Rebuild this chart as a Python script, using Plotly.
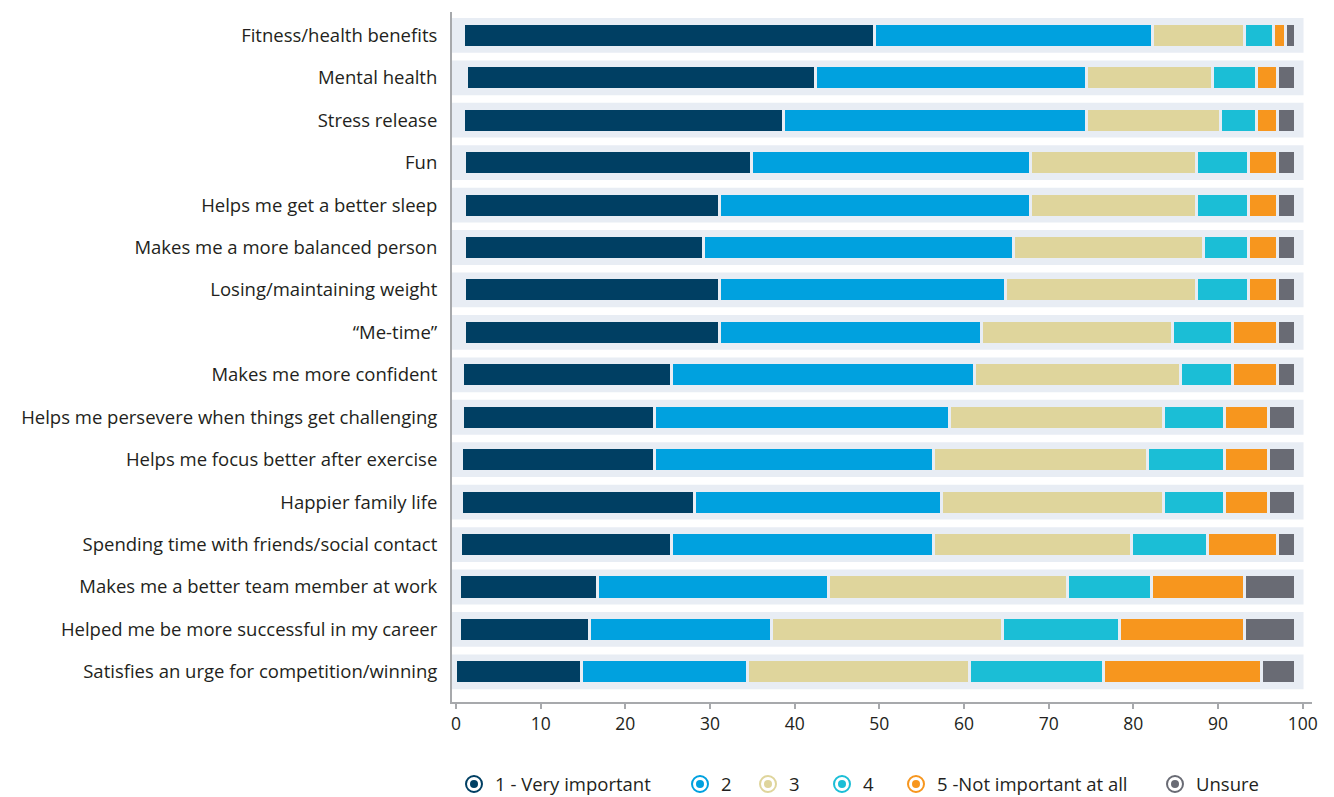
import plotly.graph_objects as go

categories = [
    "Fitness/health benefits",
    "Mental health",
    "Stress release",
    "Fun",
    "Helps me get a better sleep",
    "Makes me a more balanced person",
    "Losing/maintaining weight",
    "\u201cMe-time\u201d",
    "Makes me more confident",
    "Helps me persevere when things get challenging",
    "Helps me focus better after exercise",
    "Happier family life",
    "Spending time with friends/social contact",
    "Makes me a better team member at work",
    "Helped me be more successful in my career",
    "Satisfies an urge for competition/winning",
]

series_names = ["1 - Very important", "2", "3", "4", "5 -Not important at all", "Unsure"]

# small leading offset where each bar starts
bar_start = [0.9, 1.3, 0.9, 1.0, 1.0, 1.0, 1.0, 1.0, 0.8, 0.8, 0.6, 0.6, 0.5, 0.4, 0.4, 0.0]

very_important = [48.5, 41.2, 37.8, 33.9, 30.1, 28.2, 30.1, 30.1, 24.6, 22.7, 22.9, 27.6, 24.9, 16.3, 15.4, 14.8]
rating_2 = [32.9, 32.0, 35.8, 32.9, 36.7, 36.7, 33.8, 31.0, 35.8, 34.8, 32.9, 29.1, 31.0, 27.3, 21.5, 19.6]
rating_3 = [10.8, 14.8, 15.8, 19.6, 19.6, 22.4, 22.5, 22.5, 24.4, 25.3, 25.3, 26.3, 23.4, 28.2, 27.2, 26.3]
rating_4 = [3.4, 5.2, 4.2, 6.2, 6.2, 5.3, 6.2, 7.1, 6.1, 7.2, 9.1, 7.2, 9.0, 10.0, 13.9, 15.8]
not_important = [1.5, 2.5, 2.5, 3.4, 3.4, 3.4, 3.4, 5.3, 5.3, 5.2, 5.2, 5.2, 8.2, 10.9, 14.7, 18.6]
unsure = [1.2, 2.2, 2.2, 2.2, 2.2, 2.2, 2.2, 2.2, 2.2, 3.2, 3.2, 3.2, 2.2, 6.0, 6.0, 4.1]

x_ticks = [0, 10, 20, 30, 40, 50, 60, 70, 80, 90, 100]

colors = ["#003F63", "#00A1DF", "#DFD59C", "#1BBED6", "#F7961E", "#696B74"]
band_color = "#E8EDF4"
text_color = "#231F20"
axis_color = "#A7A9AC"
FONT = "Open Sans"

series = [very_important, rating_2, rating_3, rating_4, not_important, unsure]

# ---- layout geometry (pixels) ----
W, H = 1334, 797
M_L, M_R, M_T, M_B = 452, 22, 12, 95
PLOT_W = W - M_L - M_R
PLOT_H = H - M_T - M_B
legend_symbol_px = [474, 700, 768, 842, 916, 1175]   # legend symbol centres
legend_y_px = 784


def px_to_paper_x(px):
    return (px - M_L) / PLOT_W


def py_to_paper_y(py):
    return (H - M_B - py) / PLOT_H


fig = go.Figure()

# invisible leading offset
fig.add_trace(go.Bar(
    y=categories, x=bar_start, orientation="h", width=0.566,
    marker=dict(color="rgba(0,0,0,0)", line=dict(width=0)),
    showlegend=False, hoverinfo="skip",
))

for name, vals, col in zip(series_names, series, colors):
    fig.add_trace(go.Bar(
        y=categories, x=vals, orientation="h", name=name, width=0.566,
        marker=dict(color=col, line=dict(color=band_color, width=3)),
        showlegend=False,
    ))

# row background bands
for i, _ in enumerate(categories):
    fig.add_shape(type="rect", xref="x", yref="y",
                  x0=-0.47, x1=100.1, y0=i - 0.41, y1=i + 0.41,
                  fillcolor=band_color, line=dict(width=0), layer="below")

# custom legend: ring + dot symbol and label
ly = py_to_paper_y(legend_y_px)
for name, col, cx in zip(series_names, colors, legend_symbol_px):
    ax = px_to_paper_x(cx)
    fig.add_shape(type="circle", xref="paper", yref="paper",
                  xsizemode="pixel", ysizemode="pixel", xanchor=ax, yanchor=ly,
                  x0=-8, x1=8, y0=-8, y1=8,
                  fillcolor="white", line=dict(color=col, width=2))
    fig.add_shape(type="circle", xref="paper", yref="paper",
                  xsizemode="pixel", ysizemode="pixel", xanchor=ax, yanchor=ly,
                  x0=-4, x1=4, y0=-4, y1=4,
                  fillcolor=col, line=dict(width=0))
    fig.add_annotation(x=px_to_paper_x(cx + 19), y=ly, xref="paper", yref="paper",
                       text=name, showarrow=False, xanchor="left", yanchor="middle",
                       font=dict(family=FONT, size=18.5, color=text_color))

fig.update_layout(
    width=W, height=H,
    barmode="stack",
    plot_bgcolor="white", paper_bgcolor="white",
    margin=dict(l=M_L, r=M_R, t=M_T, b=M_B),
    font=dict(family=FONT, size=18, color=text_color),
    showlegend=False,
)

fig.update_xaxes(
    range=[-0.47, 101.1], tickvals=x_ticks, ticktext=[str(t) for t in x_ticks],
    showgrid=False, zeroline=False, showline=True, linecolor=axis_color, linewidth=2,
    ticks="outside", ticklen=5, tickcolor=axis_color, tickwidth=1.5,
    tickfont=dict(family=FONT, size=17.5, color=text_color),
)
fig.update_yaxes(
    type="category", categoryorder="array", categoryarray=categories,
    range=[15.71, -0.55],
    showgrid=False, zeroline=False, showline=True, linecolor=axis_color, linewidth=2,
    ticks="", ticklabelstandoff=9,
    tickfont=dict(family=FONT, size=18.5, color=text_color),
)

fig.write_html("out.html")
